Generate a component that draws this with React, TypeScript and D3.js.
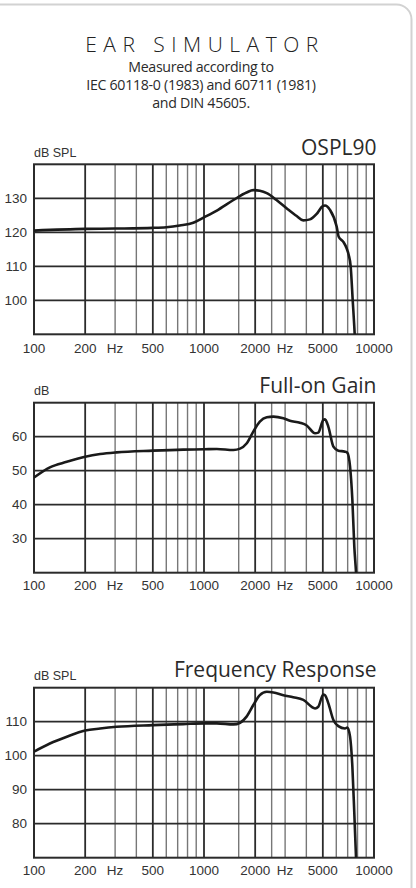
import React from "react";
import * as d3 from "d3";

const TITLE = "EAR SIMULATOR";
const SUBTITLE = ["Measured according to", "IEC 60118-0 (1983) and 60711 (1981)", "and DIN 45605."];

const X_TICKS = [100, 200, 500, 1000, 2000, 5000, 10000];
const HZ_LABELS = [300, 3000];
const V_GRID = [200, 300, 400, 500, 600, 700, 800, 900, 1000, 1600, 2000, 2500, 3000, 4000, 5000, 6000, 7000, 8000, 9000];
const V_MAJOR = [200, 500, 1000, 2000, 5000];

const OSPL_FREQ = [100, 200, 300, 500, 600, 720, 865, 1000, 1190, 1490, 1780, 1950, 2130, 2340, 2670, 3060, 3510, 3840, 4200, 4600, 4990, 5150, 5510, 6030, 6200, 6600, 6900, 7100, 7290, 7495, 7700, 7800];
const OSPL_DB = [120.5, 121.0, 121.1, 121.3, 121.5, 122.0, 122.8, 124.4, 126.4, 129.5, 131.7, 132.4, 132.2, 131.5, 129.5, 127.1, 124.8, 123.5, 123.8, 125.4, 127.7, 127.9, 126.6, 121.7, 118.7, 117.2, 115.3, 113.3, 110, 100, 90, 84];
const OSPL_TICKS = [100, 110, 120, 130];

const GAIN_FREQ = [100, 124, 156, 200, 245, 306, 500, 755, 1000, 1190, 1490, 1630, 1780, 1950, 2130, 2340, 2560, 2930, 3200, 3670, 4020, 4500, 4700, 5030, 5150, 5390, 5770, 6170, 6750, 6970, 7230, 7460, 7660, 7840, 7950];
const GAIN_DB = [48.0, 51.0, 52.6, 54.1, 54.9, 55.4, 55.9, 56.2, 56.3, 56.4, 56.1, 56.5, 58.0, 61.5, 64.4, 65.7, 65.9, 65.4, 64.7, 64.1, 63.3, 61.0, 61.2, 64.9, 65.1, 62.9, 57.1, 55.9, 55.6, 55.3, 51.2, 41.4, 27.6, 20, 14];
const GAIN_TICKS = [30, 40, 50, 60];

const FR_FREQ = [100, 124, 156, 200, 245, 306, 500, 755, 1000, 1190, 1490, 1630, 1780, 1950, 2130, 2340, 2560, 2930, 3350, 3840, 4500, 4700, 5030, 5150, 5390, 5770, 6170, 6750, 6970, 7230, 7460, 7660, 7840, 7950];
const FR_DB = [101.2, 103.6, 105.6, 107.4, 108.0, 108.5, 109.0, 109.3, 109.5, 109.5, 109.2, 109.7, 111.5, 114.9, 117.8, 118.8, 118.6, 117.8, 117.2, 116.4, 113.9, 114.4, 118.0, 117.8, 115.4, 110.5, 108.7, 108.0, 108.3, 105.6, 96.8, 83.0, 70, 64];
const FR_TICKS = [80, 90, 100, 110];

const AXIS_FONT = "'Liberation Sans Narrow', 'Liberation Sans', Arial, sans-serif";
const TITLE_FONT = "'Open Sans', 'Noto Sans', sans-serif";

type ChartProps = {
  id: string;
  top: number;
  freq: number[];
  db: number[];
  yDomain: [number, number];
  yTicks: number[];
  unit: string;
  title: string;
  titleBase: number;
  unitBase: number;
  labelOffset: number;
};

const LEFT = 34;
const RIGHT = 374;
const H = 170;

function Chart(p: ChartProps) {
  const x = d3.scaleLog().domain([100, 10000]).range([LEFT, RIGHT]);
  const y = d3.scaleLinear().domain(p.yDomain).range([p.top + H, p.top]);
  const pts: [number, number][] = p.freq.map((f, i) => [x(f), y(p.db[i])]);
  const line = d3.line().curve(d3.curveMonotoneX)(pts) || "";
  const minor = V_GRID.filter((f) => !V_MAJOR.includes(f));
  const major = V_GRID.filter((f) => V_MAJOR.includes(f));
  return (
    <g>
      <defs>
        <clipPath id={p.id}>
          <rect x={LEFT} y={p.top} width={RIGHT - LEFT} height={H} />
        </clipPath>
      </defs>
      {minor.map((f) => (
        <line key={"m" + f} x1={x(f)} x2={x(f)} y1={p.top} y2={p.top + H} stroke="#777" strokeWidth={1.4} />
      ))}
      {major.map((f) => (
        <line key={"M" + f} x1={x(f)} x2={x(f)} y1={p.top} y2={p.top + H} stroke="#2b2b2b" strokeWidth={1.8} />
      ))}
      {p.yTicks.map((t) => (
        <line key={"h" + t} x1={LEFT} x2={RIGHT} y1={y(t)} y2={y(t)} stroke="#2b2b2b" strokeWidth={1.8} />
      ))}
      <rect x={LEFT} y={p.top} width={RIGHT - LEFT} height={H} fill="none" stroke="#2b2b2b" strokeWidth={2} />
      <path d={line} fill="none" stroke="#1a1a1a" strokeWidth={2.6} clipPath={`url(#${p.id})`} strokeLinejoin="round" />
      {p.yTicks.map((t) => (
        <text key={"yl" + t} x={27} y={y(t) + 4.6} textAnchor="end" fontFamily={AXIS_FONT} fontSize={13.5} fill="#333">
          {t}
        </text>
      ))}
      {X_TICKS.map((t) => (
        <text key={"xl" + t} x={x(t)} y={p.top + H + p.labelOffset} textAnchor="middle" fontFamily={AXIS_FONT} fontSize={13.5} fill="#333">
          {t}
        </text>
      ))}
      {HZ_LABELS.map((t) => (
        <text key={"hz" + t} x={x(t)} y={p.top + H + p.labelOffset} textAnchor="middle" fontFamily={AXIS_FONT} fontSize={13.5} fill="#333">
          Hz
        </text>
      ))}
      <text x={LEFT} y={p.unitBase} fontFamily={AXIS_FONT} fontSize={12.5} fill="#333">
        {p.unit}
      </text>
      <text x={376.5} y={p.titleBase} textAnchor="end" fontFamily={TITLE_FONT} fontSize={21} fill="#2a2a2a">
        {p.title}
      </text>
    </g>
  );
}

export default function App() {
  return (
    <svg width={416} height={888} style={{ position: "absolute", left: 0, top: 0, background: "#fff" }}>
      <rect x={-30} y={4.5} width={441.5} height={920} rx={15} ry={15} fill="#fff" stroke="#d2d2d2" strokeWidth={2} />
      <text x={205} y={51.7} textAnchor="middle" fontFamily={TITLE_FONT} fontWeight={300} fontSize={21} letterSpacing={6.5} fill="#222">
        {TITLE}
      </text>
      {SUBTITLE.map((s, i) => (
        <text key={i} x={201} y={71.7 + i * 18.3} textAnchor="middle" fontFamily={TITLE_FONT} fontSize={14.2} letterSpacing={-0.3} fill="#2a2a2a">
          {s}
        </text>
      ))}
      <Chart id="c1" top={164.3} freq={OSPL_FREQ} db={OSPL_DB} yDomain={[90, 140]} yTicks={OSPL_TICKS} unit="dB SPL" title="OSPL90" titleBase={155} unitBase={156.5} labelOffset={19} />
      <Chart id="c2" top={402.7} freq={GAIN_FREQ} db={GAIN_DB} yDomain={[20, 70]} yTicks={GAIN_TICKS} unit="dB" title="Full-on Gain" titleBase={392.7} unitBase={395.3} labelOffset={17.7} />
      <Chart id="c3" top={687.7} freq={FR_FREQ} db={FR_DB} yDomain={[70, 120]} yTicks={FR_TICKS} unit="dB SPL" title="Frequency Response" titleBase={676.7} unitBase={680} labelOffset={17.7} />
    </svg>
  );
}
